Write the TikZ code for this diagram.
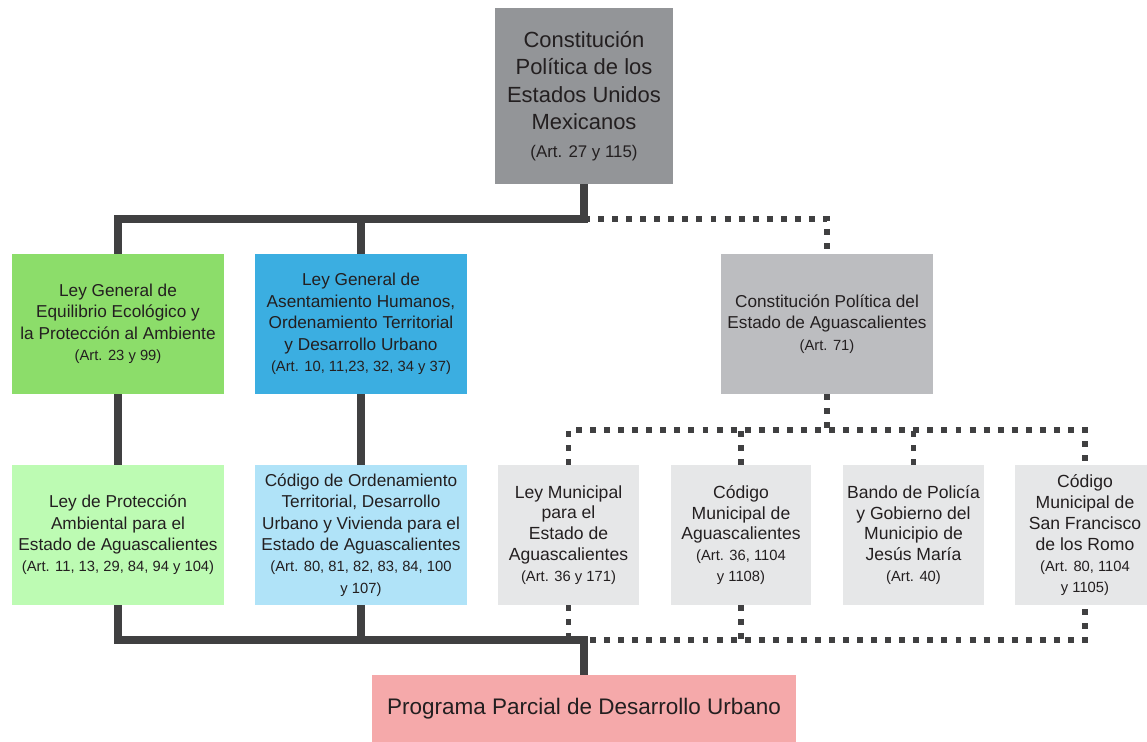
\documentclass[tikz,border=0pt]{standalone}
\usepackage{fontspec}
\setmainfont{Liberation Sans}
\definecolor{lineGrey}{HTML}{404041}
\definecolor{textGrey}{HTML}{231F20}
\definecolor{fedGrey}{HTML}{939598}
\definecolor{stateGrey}{HTML}{BCBDC0}
\definecolor{paleGrey}{HTML}{E6E7E8}
\definecolor{lawGreen}{HTML}{8CDD6A}
\definecolor{paleGreen}{HTML}{BDFBB3}
\definecolor{lawBlue}{HTML}{3BAEE1}
\definecolor{paleBlue}{HTML}{B0E3F8}
\definecolor{planPink}{HTML}{F5A9AA}
\newcommand*{\ArtFont}{\fontsize{8.4}{10}\selectfont}

\tikzset{
  law/.style={minimum width=4.24cm, minimum height=2.8cm, align=center,
    inner sep=2pt, text=textGrey, font=\fontsize{9.8}{12.2}\selectfont},
  local/.style={law, minimum width=2.82cm, fill=paleGrey,
    font=\fontsize{10}{11.9}\selectfont},
  solidline/.style={line width=4pt, draw=lineGrey},
  dotline/.style={line width=3.4pt, draw=lineGrey, dash pattern=on 3.4pt off 4.6pt},
}

\begin{document}
\begin{tikzpicture}[x=0.02cm, y=-0.02cm]
  \useasboundingbox (0,0) rectangle (1147,742);

  % federal level
  \node[law, fill=fedGrey, minimum width=3.56cm, minimum height=3.52cm,
        font=\fontsize{12.5}{15.7}\selectfont] (cpeum) at (584,96)
    {Constitución\\Política de los\\Estados Unidos\\Mexicanos\\
     {\fontsize{9.6}{11}\selectfont (Art. 27 y 115)}};

  \node[law, fill=lawGreen] (lgeepa) at (118,324)
    {Ley General de\\Equilibrio Ecológico y\\la Protección al Ambiente\\
     {\ArtFont (Art. 23 y 99)}};
  \node[law, fill=lawBlue] (lgah) at (361,324)
    {Ley General de\\Asentamiento Humanos,\\Ordenamiento Territorial\\y Desarrollo Urbano\\
     {\ArtFont (Art. 10, 11,23, 32, 34 y 37)}};
  \node[law, fill=stateGrey] (cpea) at (827,324)
    {Constitución Política del\\Estado de Aguascalientes\\
     {\ArtFont (Art. 71)}};

  % state level
  \node[law, fill=paleGreen] (lpa) at (118,535)
    {Ley de Protección\\Ambiental para el\\Estado de Aguascalientes\\
     {\ArtFont (Art. 11, 13, 29, 84, 94 y 104)}};
  \node[law, fill=paleBlue] (cot) at (361,535)
    {Código de Ordenamiento\\Territorial, Desarrollo\\Urbano y Vivienda para el\\Estado de Aguascalientes\\
     {\ArtFont (Art. 80, 81, 82, 83, 84, 100}\\{\ArtFont y 107)}};

  % municipal level
  \foreach \nm/\xc/\txt in {
      lm/568.5/{Ley Municipal\\para el\\Estado de\\Aguascalientes\\{\ArtFont (Art. 36 y 171)}},
      cm/741/{Código\\Municipal de\\Aguascalientes\\{\ArtFont (Art. 36, 1104}\\{\ArtFont y 1108)}},
      bp/913.5/{Bando de Policía\\y Gobierno del\\Municipio de\\Jesús María\\{\ArtFont (Art. 40)}},
      sfr/1085/{Código\\Municipal de\\San Francisco\\de los Romo\\{\ArtFont (Art. 80, 1104}\\{\ArtFont y 1105)}}}
    \node[local] (\nm) at (\xc,535) {\txt};

  \node[law, fill=planPink, minimum width=8.48cm, minimum height=1.34cm,
        font=\fontsize{12.8}{15}\selectfont] (ppdu) at (584,708.5)
    {Programa Parcial de Desarrollo Urbano};

  % connectors
  \coordinate (topbus) at (584,219);
  \coordinate (midbus) at (827,430);
  \coordinate (lowbus) at (584,640);

  \draw[dotline] (topbus) -| (cpea.north);
  \draw[dotline] (lm.north) |- (midbus) -| (sfr.north);
  \draw[dotline] (cpea.south) -- (midbus);
  \draw[dotline] (cm.north) -- (cm.north |- midbus);
  \draw[dotline] (bp.north) -- (bp.north |- midbus);
  \draw[dotline] (lm.south) |- (lowbus) -| (sfr.south);
  \draw[dotline] (cm.south) -- (cm.south |- lowbus);

  \draw[solidline] (lgeepa.north) |- (topbus) -- (cpeum.south);
  \draw[solidline] (lgah.north) -- (lgah.north |- topbus);
  \draw[solidline] (lgeepa.south) -- (lpa.north);
  \draw[solidline] (lgah.south) -- (cot.north);
  \draw[solidline] (lpa.south) |- (lowbus) -- (ppdu.north);
  \draw[solidline] (cot.south) -- (cot.south |- lowbus);
\end{tikzpicture}
\end{document}
